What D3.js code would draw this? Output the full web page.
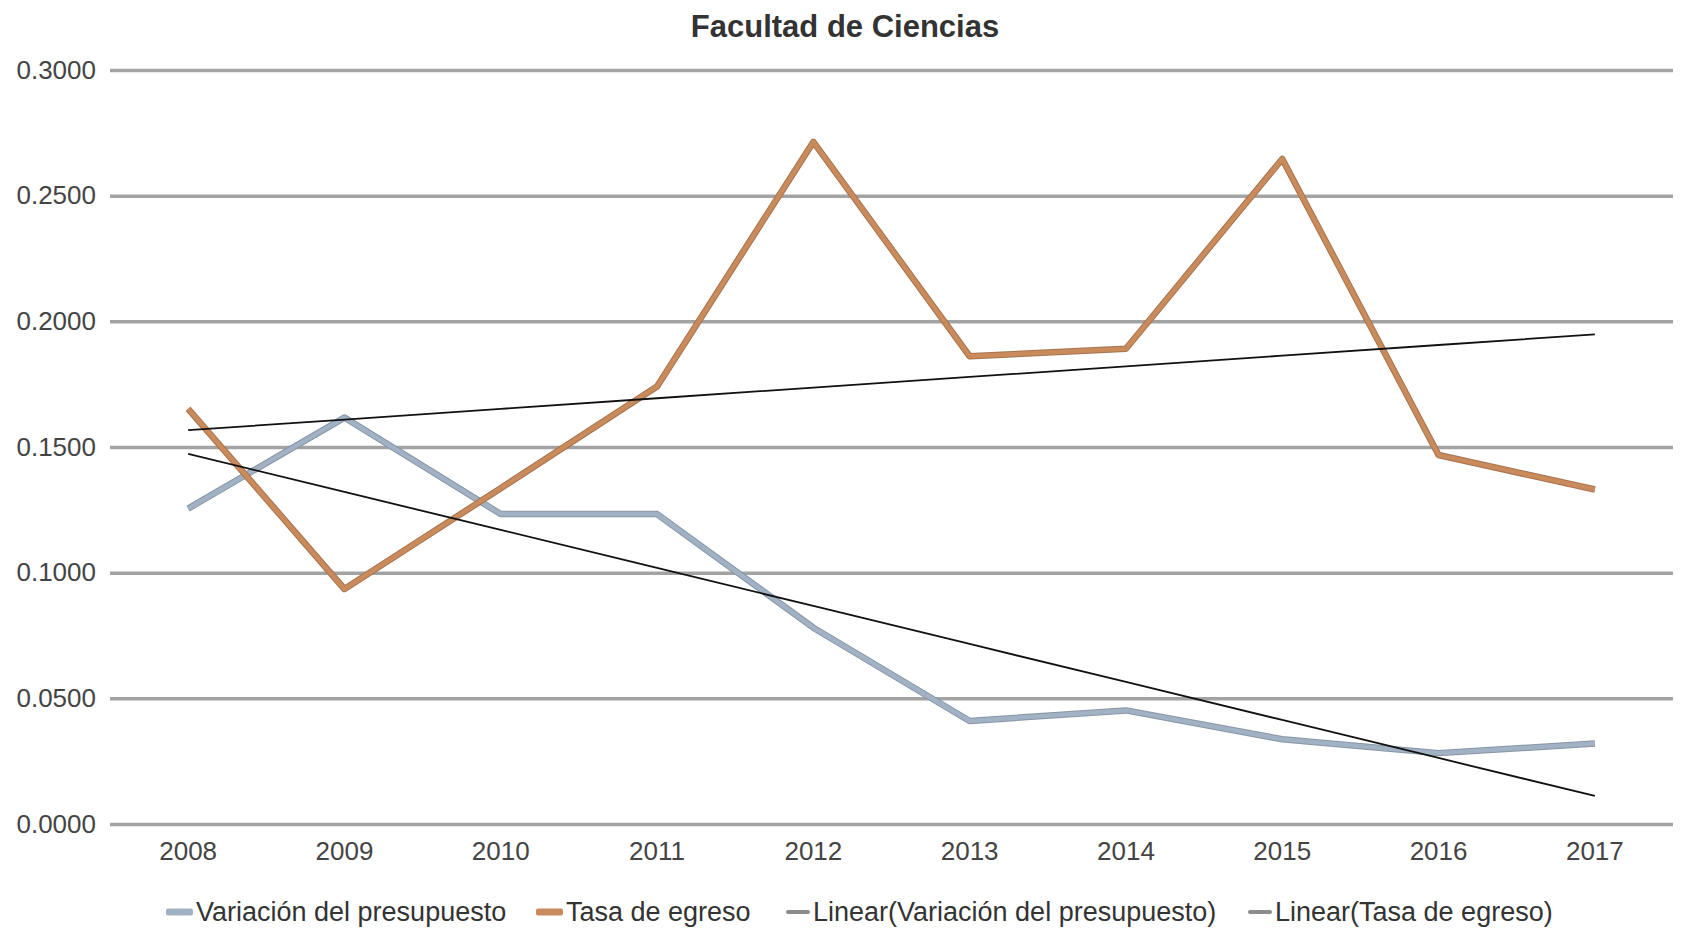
<!DOCTYPE html>
<html>
<head>
<meta charset="utf-8">
<script src="https://cdn.jsdelivr.net/npm/d3@7"></script>
<style>
  body { margin: 0; background: #fff; }
  svg { display: block; font-family: "Liberation Sans", Arial, sans-serif; }
</style>
</head>
<body>
<svg id="chart"></svg>
<script>
const years = ["2008", "2009", "2010", "2011", "2012", "2013", "2014", "2015", "2016", "2017"];
const variacion = [0.1255, 0.1617, 0.1233, 0.1233, 0.0781, 0.0410, 0.0452, 0.0337, 0.0282, 0.0320];
const tasa = [0.1652, 0.0935, 0.1336, 0.1741, 0.2714, 0.1861, 0.1891, 0.2646, 0.1468, 0.1331];
const yTicks = [0, 0.05, 0.1, 0.15, 0.2, 0.25, 0.3];
const legendLabels = ["Variación del presupuesto", "Tasa de egreso", "Linear(Variación del presupuesto)", "Linear(Tasa de egreso)"];

const width = 1682, height = 930;
const margin = { top: 70, right: 9, bottom: 106, left: 110 };

const svg = d3.select("#chart").attr("width", width).attr("height", height);

const x = d3.scaleBand().domain(years).range([margin.left, width - margin.right]);
const y = d3.scaleLinear().domain([0, 0.3]).range([height - margin.bottom, margin.top]);
const cx = d => x(d) + x.bandwidth() / 2;

// title
svg.append("text")
  .attr("x", 845).attr("y", 26)
  .attr("text-anchor", "middle").attr("dominant-baseline", "central")
  .style("font-size", "31px").style("font-weight", "bold").style("fill", "#333")
  .text("Facultad de Ciencias");

// gridlines + y labels
const yAxis = d3.axisLeft(y).tickValues(yTicks).tickFormat(d3.format(".4f"))
  .tickSize(-(width - margin.left - margin.right)).tickPadding(14);
svg.append("g")
  .attr("transform", `translate(${margin.left},0)`)
  .call(yAxis)
  .call(g => g.select(".domain").remove())
  .call(g => g.selectAll(".tick line").attr("stroke", "#a3a3a3").attr("stroke-width", 3.5))
  .call(g => g.selectAll(".tick text").style("font-size", "26px").style("fill", "#444").attr("font-family", null));

// x labels
const xAxis = d3.axisBottom(x).tickSize(0).tickPadding(18);
svg.append("g")
  .attr("transform", `translate(0,${height - margin.bottom})`)
  .call(xAxis)
  .call(g => g.select(".domain").remove())
  .call(g => g.selectAll(".tick text").style("font-size", "26px").style("fill", "#444").attr("font-family", null));

// series
const line = d3.line().x((d, i) => cx(years[i])).y(d => y(d));
const series = [
  { values: variacion, color: "#a1b2c5", edge: "#8796a6" },
  { values: tasa, color: "#c98a5c", edge: "#a8744f" }
];
series.forEach(s => {
  svg.append("path").datum(s.values).attr("d", line)
    .attr("fill", "none").attr("stroke", s.edge).attr("stroke-width", 6.5)
    .attr("stroke-linejoin", "round");
  svg.append("path").datum(s.values).attr("d", line)
    .attr("fill", "none").attr("stroke", s.color).attr("stroke-width", 4.5)
    .attr("stroke-linejoin", "round");
});

// linear trendlines (least squares)
function trend(vals) {
  const n = vals.length, xs = d3.range(n);
  const mx = d3.mean(xs), my = d3.mean(vals);
  const slope = d3.sum(xs, i => (i - mx) * (vals[i] - my)) / d3.sum(xs, i => (i - mx) ** 2);
  return xs.map(i => my + slope * (i - mx));
}
[variacion, tasa].forEach(vals => {
  svg.append("path").datum(trend(vals)).attr("d", line)
    .attr("fill", "none").attr("stroke", "#111").attr("stroke-width", 1.8);
});

// legend
const legendX = [166, 536, 786, 1248];
const swatch = [
  { color: "#a1b2c5", w: 27, h: 7 },
  { color: "#c98a5c", w: 27, h: 7 },
  { color: "#8c8c8c", w: 24, h: 4 },
  { color: "#8c8c8c", w: 24, h: 4 }
];
const legend = svg.append("g").attr("transform", "translate(0,912)");
legendLabels.forEach((lab, i) => {
  legend.append("rect")
    .attr("x", legendX[i]).attr("y", -swatch[i].h / 2)
    .attr("width", swatch[i].w).attr("height", swatch[i].h)
    .attr("rx", 2).attr("fill", swatch[i].color);
  legend.append("text")
    .attr("x", legendX[i] + swatch[i].w + 3).attr("y", 0)
    .attr("dominant-baseline", "central")
    .style("font-size", "27px").style("fill", "#333")
    .text(lab);
});
</script>
</body>
</html>
